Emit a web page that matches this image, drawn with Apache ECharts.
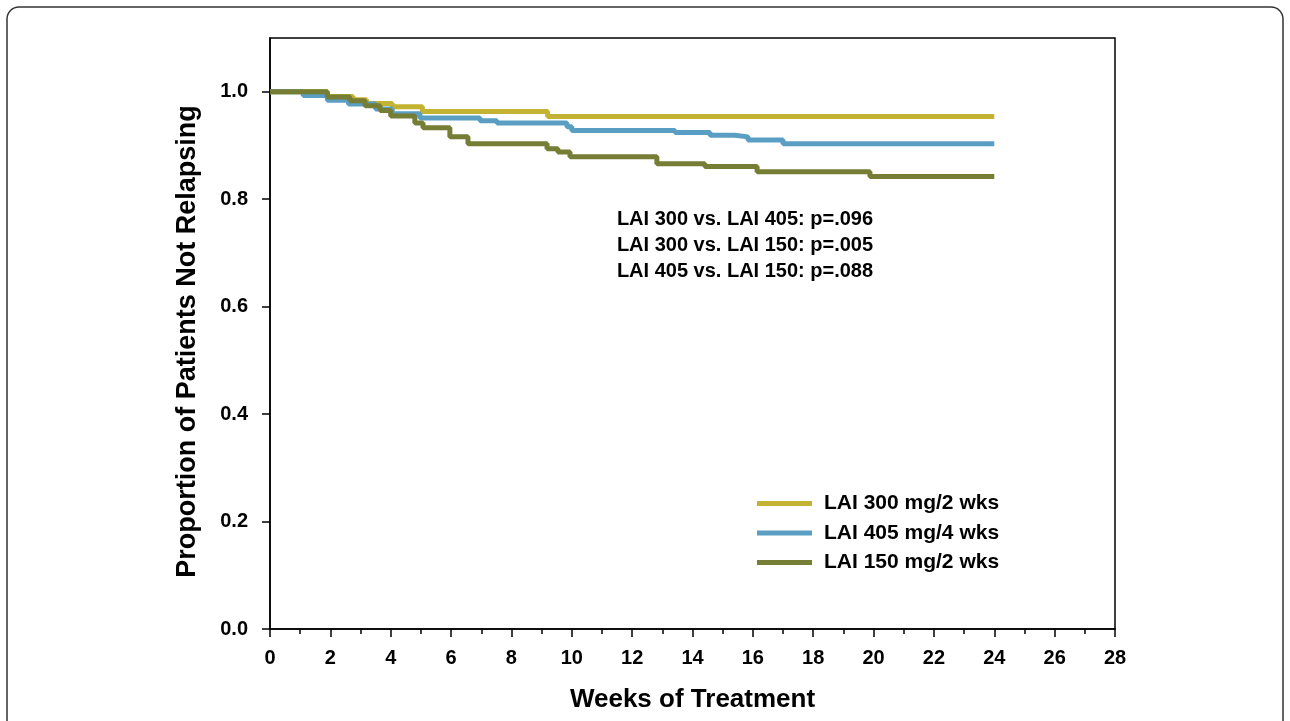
<!DOCTYPE html>
<html>
<head>
<meta charset="utf-8">
<script src="https://cdn.jsdelivr.net/npm/echarts@6/dist/echarts.min.js"></script>
<style>
html,body{margin:0;padding:0;background:#fff;}
#chart{width:1290px;height:721px;}
</style>
</head>
<body>
<div id="chart"></div>
<script>
const seriesNames = ['LAI 300 mg/2 wks', 'LAI 405 mg/4 wks', 'LAI 150 mg/2 wks'];
const lai300 = [[0,1],[1.9,0.991],[2.75,0.985],[3.2,0.978],[4.05,0.972],[5.05,0.963],[9.2,0.954],[24,0.954]];
const lai405 = [[0,1],[1.1,0.993],[1.9,0.984],[2.6,0.977],[3.5,0.968],[4.05,0.959],[4.97,0.951],[6.96,0.946],[7.52,0.942],[9.84,0.935],[10.0,0.928],[13.42,0.924],[14.58,0.919],[15.41,0.916],[15.84,0.91],[17.0,0.903],[24,0.903]];
const lai150 = [[0,1],[1.9,0.99],[2.65,0.983],[3.15,0.974],[3.65,0.965],[4.0,0.955],[4.8,0.942],[5.07,0.933],[5.96,0.916],[6.56,0.903],[9.18,0.894],[9.54,0.888],[9.94,0.879],[12.82,0.866],[14.41,0.861],[16.14,0.851],[19.88,0.842],[24,0.842]];
const yTicks = [0, 0.2, 0.4, 0.6, 0.8, 1.0];
const annotations = ['LAI 300 vs. LAI 405: p=.096', 'LAI 300 vs. LAI 150: p=.005', 'LAI 405 vs. LAI 150: p=.088'];
const colors = ['#C4B332', '#5A9EC3', '#767D35'];
const FONT = '"Liberation Sans", Arial, sans-serif';

const chart = echarts.init(document.getElementById('chart'));
const mkSeries = (name, data, color) => ({
  name, type: 'line', data, step: 'end', symbol: 'none',
  lineStyle: { width: 5, color }, itemStyle: { color }, z: 3
});
chart.setOption({
  animation: false,
  backgroundColor: '#fff',
  grid: { left: 270, top: 38, right: 175, bottom: 92, show: true, borderColor: '#000', borderWidth: 1.5 },
  xAxis: {
    type: 'value', min: 0, max: 28, interval: 2,
    name: 'Weeks of Treatment', nameLocation: 'middle', nameGap: 58,
    nameTextStyle: { fontFamily: FONT, fontWeight: 'bold', fontSize: 26, color: '#000' },
    axisLine: { show: true, lineStyle: { color: '#000', width: 1.5 } },
    axisTick: { show: true, length: 8, lineStyle: { color: '#000', width: 1.5 } },
    minorTick: { show: true, splitNumber: 2, length: 5, lineStyle: { color: '#000', width: 1.5 } },
    splitLine: { show: false },
    axisLabel: { fontFamily: FONT, fontWeight: 'bold', fontSize: 20, color: '#000', margin: 19 }
  },
  yAxis: {
    type: 'value', min: 0, max: 1.1, interval: 0.2,
    name: 'Proportion of Patients Not Relapsing', nameLocation: 'middle', nameGap: 69, nameRotate: 90,
    nameTextStyle: { fontFamily: FONT, fontWeight: 'bold', fontSize: 27, color: '#000', padding: [0, 16, 0, 0] },
    axisLine: { show: true, lineStyle: { color: '#000', width: 1.5 } },
    axisTick: { show: true, length: 8, customValues: yTicks, lineStyle: { color: '#000', width: 1.5 } },
    splitLine: { show: false },
    axisLabel: { customValues: yTicks, fontFamily: FONT, fontWeight: 'bold', fontSize: 20, color: '#000', margin: 22,
      formatter: v => v.toFixed(1) }
  },
  legend: {
    orient: 'vertical', left: 752, top: 488, itemWidth: 55, itemHeight: 5, itemGap: 8.5,
    icon: 'rect',
    data: seriesNames,
    textStyle: { fontFamily: FONT, fontWeight: 'bold', fontSize: 21, color: '#000', padding: [0, 0, 0, 7] }
  },
  graphic: [
    { type: 'rect', x: 7, y: 7, z: -1, silent: true,
      shape: { x: 0, y: 0, width: 1276, height: 760, r: 12 },
      style: { fill: 'none', stroke: '#333', lineWidth: 1.5 } },
    ...annotations.map((t, i) => ({
      type: 'text', x: 745, y: 219.5 + i * 26, z: 10,
      style: { text: t, font: 'bold 20px ' + FONT, fill: '#000', textAlign: 'center', textVerticalAlign: 'middle' }
    }))
  ],
  series: [
    mkSeries(seriesNames[0], lai300, colors[0]),
    mkSeries(seriesNames[1], lai405, colors[1]),
    mkSeries(seriesNames[2], lai150, colors[2])
  ]
});
</script>
</body>
</html>
